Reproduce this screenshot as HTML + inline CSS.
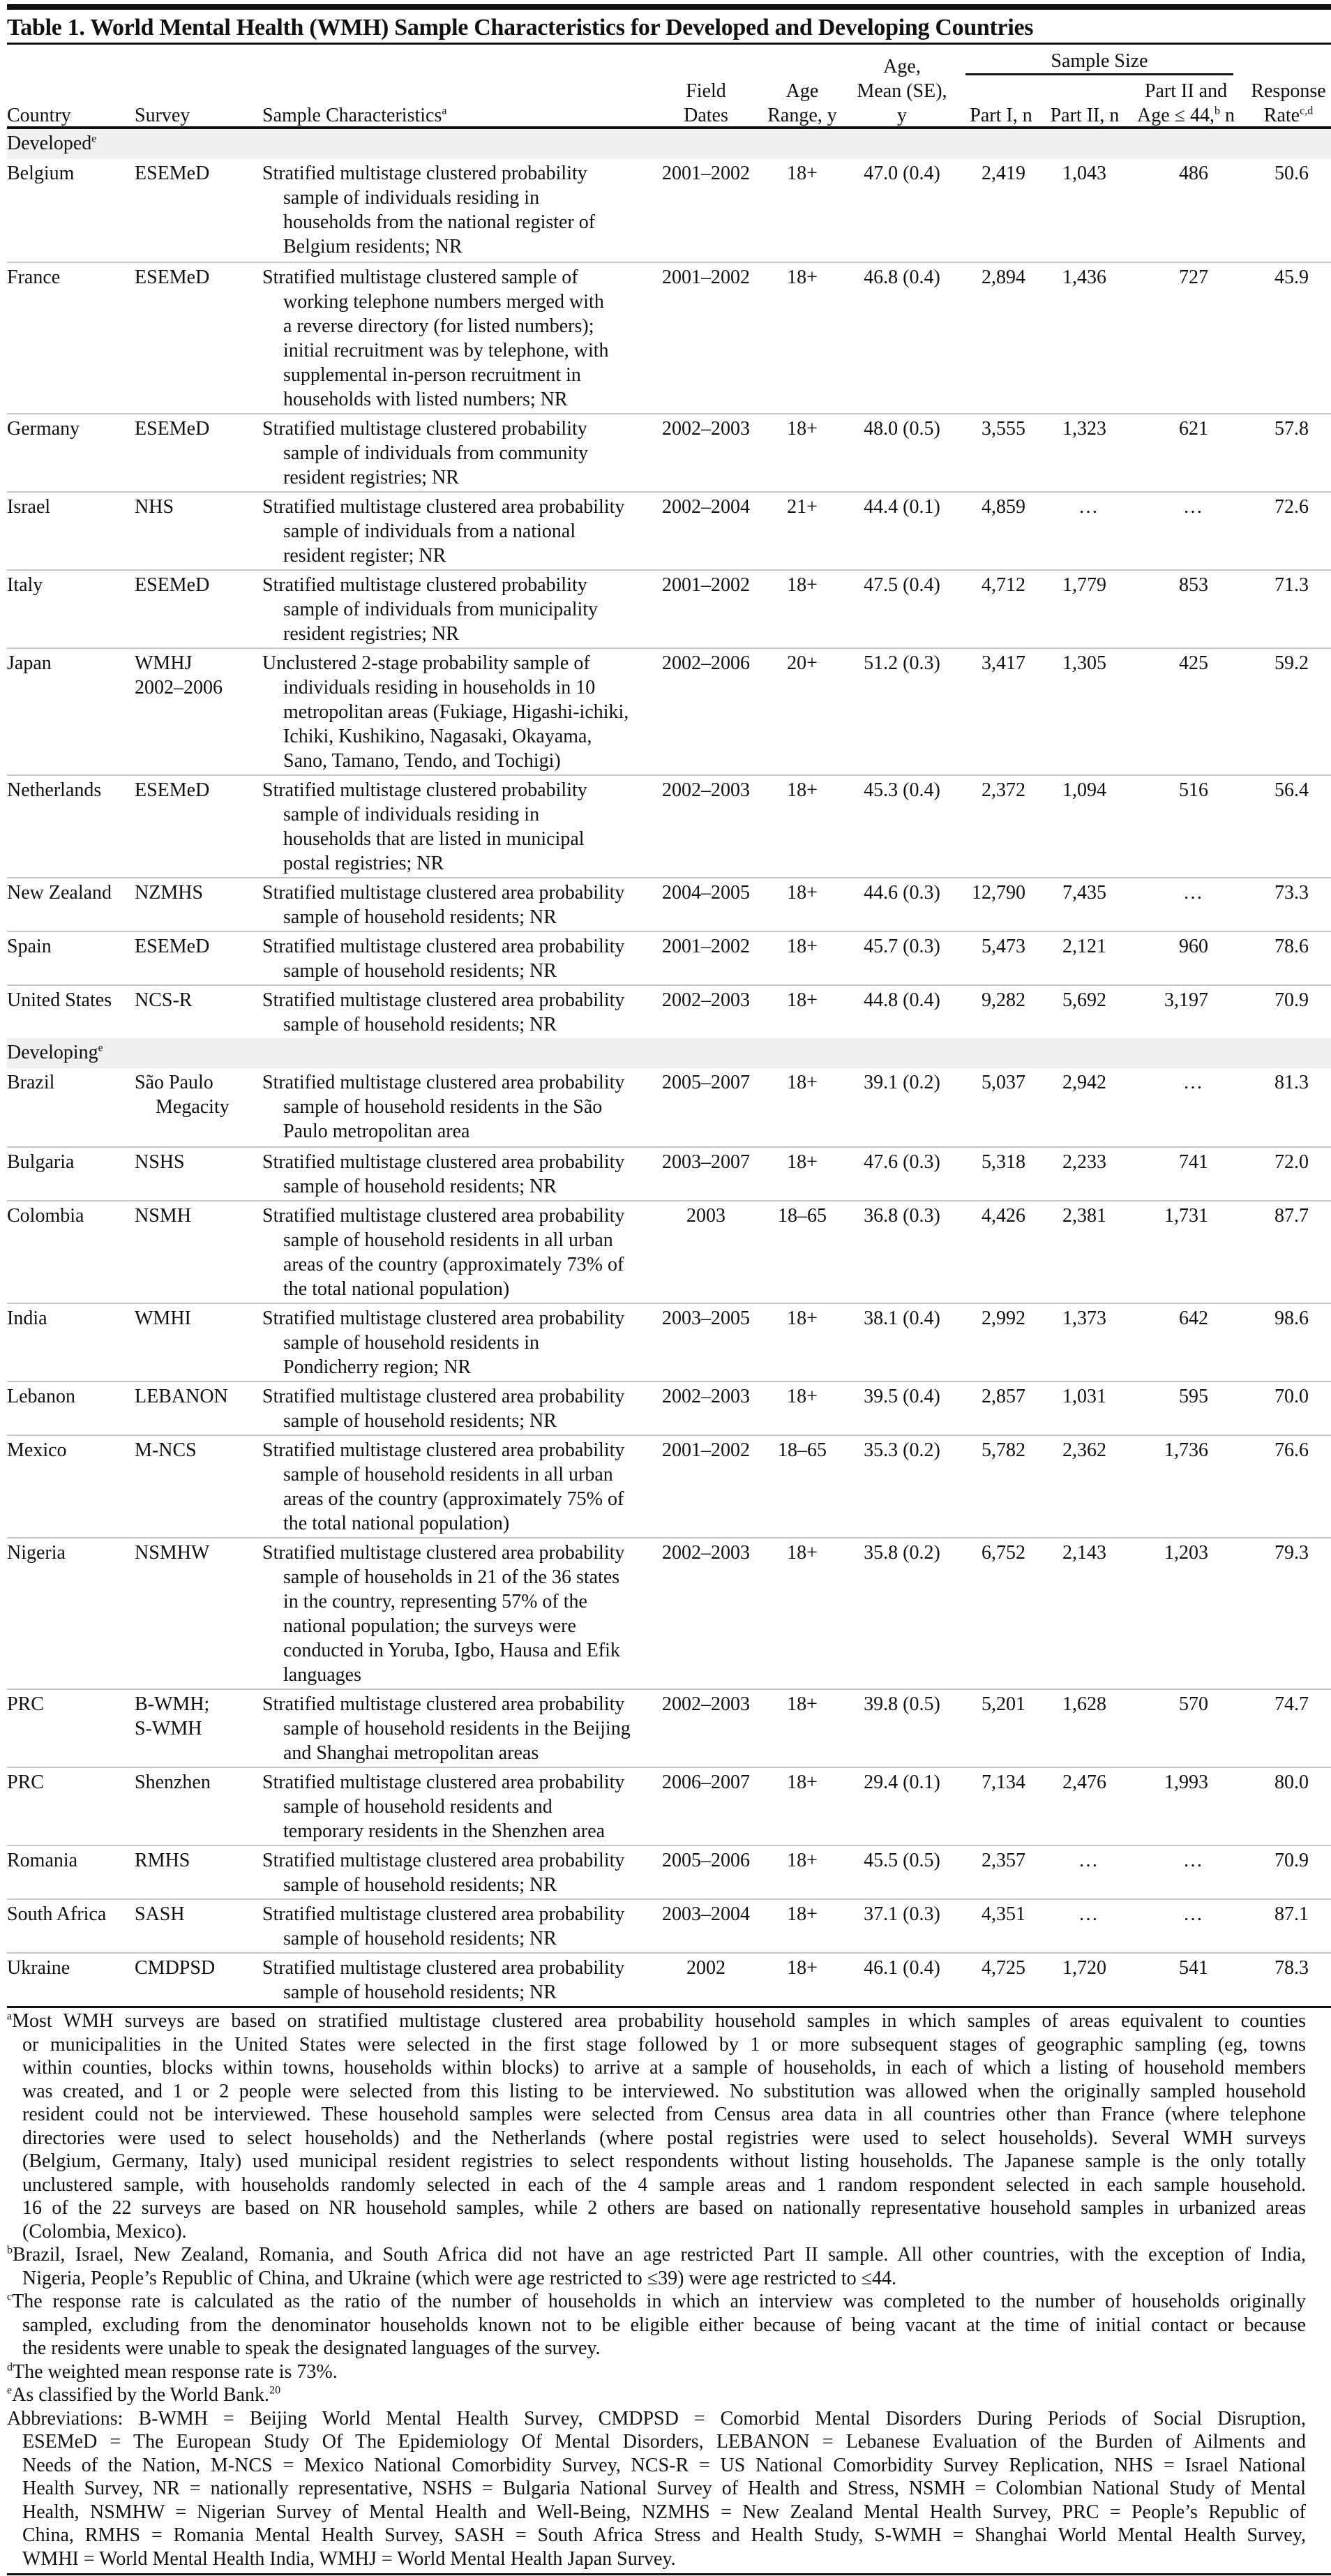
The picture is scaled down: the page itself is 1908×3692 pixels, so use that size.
<!DOCTYPE html>
<html><head><meta charset="utf-8">
<style>
html,body{margin:0;padding:0;background:#fff;}
body{width:1908px;height:3692px;overflow:hidden;position:relative;font-family:"Liberation Serif",serif;color:#111;font-size:28px;}
#topbar{position:absolute;left:10px;top:6px;width:1898px;height:8px;background:#111;}
#title{position:absolute;left:10px;top:21px;font-size:34px;font-weight:bold;white-space:nowrap;letter-spacing:-0.3px;}
.rule{position:absolute;left:10px;width:1898px;background:#111;}
.hd{position:absolute;white-space:nowrap;line-height:35px;text-align:center;}
#tbl{position:absolute;left:0;top:185px;width:1908px;}
.row{position:relative;box-sizing:border-box;border-top:2px solid #c8c8c8;margin-left:10px;width:1898px;}
.row.first{border-top:none;}
.band{background:#f0f0f0;height:43px;margin-left:10px;width:1898px;position:relative;}
.band span{position:absolute;left:0;top:3px;line-height:35px;}
.cell{position:absolute;top:3px;line-height:35px;white-space:nowrap;}
.c{left:0;}
.s{left:183px;}
.d{left:366px;}
.d div+div{padding-left:30px;}
.s div+div.ind{padding-left:30px;}
.fd{left:937px;width:130px;text-align:center;}
.ar{left:1080px;width:120px;text-align:center;}
.am{left:1208px;width:150px;text-align:center;}
.p1{left:1360px;width:100px;text-align:right;}
.p2{left:1476px;width:100px;text-align:right;}
.p3{left:1622px;width:100px;text-align:right;}
.rr{left:1766px;width:100px;text-align:right;}
.el{text-align:center !important;}
.p2.el{left:1500px;width:100px;}
.p3.el{left:1650px;width:100px;}
sup{font-size:16px;line-height:0;}
#foot{position:absolute;left:10px;top:2880px;width:1862px;line-height:33.5px;font-size:28px;}
#foot div{white-space:nowrap;}
#foot .j{text-align:justify;text-align-last:justify;}
#foot .i{padding-left:22px;}
</style></head><body>
<div id="topbar"></div>
<div id="title">Table 1. World Mental Health (WMH) Sample Characteristics for Developed and Developing Countries</div>
<div class="rule" style="top:61px;height:3px;"></div>

<div class="hd" style="left:1384px;width:384px;top:70px;">Sample Size</div>
<div class="rule" style="left:1384px;width:384px;top:105px;height:3px;"></div>
<div class="hd" style="left:1213px;width:160px;top:78px;">Age,</div>
<div class="hd" style="left:947px;width:130px;top:113px;">Field</div>
<div class="hd" style="left:1090px;width:120px;top:113px;">Age</div>
<div class="hd" style="left:1213px;width:160px;top:113px;">Mean (SE),</div>
<div class="hd" style="left:1630px;width:140px;top:113px;">Part II and</div>
<div class="hd" style="left:1786px;width:122px;top:113px;">Response</div>
<div class="hd" style="left:10px;top:148px;">Country</div>
<div class="hd" style="left:193px;top:148px;">Survey</div>
<div class="hd" style="left:376px;top:148px;">Sample Characteristics<sup>a</sup></div>
<div class="hd" style="left:947px;width:130px;top:148px;">Dates</div>
<div class="hd" style="left:1090px;width:120px;top:148px;">Range, y</div>
<div class="hd" style="left:1213px;width:160px;top:148px;">y</div>
<div class="hd" style="left:1380px;width:110px;top:148px;">Part I, n</div>
<div class="hd" style="left:1496px;width:118px;top:148px;">Part II, n</div>
<div class="hd" style="left:1625px;width:150px;top:148px;">Age ≤ 44,<sup>b</sup> n</div>
<div class="hd" style="left:1786px;width:122px;top:148px;">Rate<sup>c,d</sup></div>
<div class="rule" style="top:181px;height:4px;"></div>

<div id="tbl">
<div class="band"><span>Developed<sup>e</sup></span></div>

<div class="row first" style="height:147px"><div class="cell c">Belgium</div><div class="cell s">ESEMeD</div><div class="cell d"><div>Stratified multistage clustered probability</div><div>sample of individuals residing in</div><div>households from the national register of</div><div>Belgium residents; NR</div></div><div class="cell fd">2001–2002</div><div class="cell ar">18+</div><div class="cell am">47.0 (0.4)</div><div class="cell p1">2,419</div><div class="cell p2">1,043</div><div class="cell p3">486</div><div class="cell rr">50.6</div></div>

<div class="row" style="height:217px"><div class="cell c">France</div><div class="cell s">ESEMeD</div><div class="cell d"><div>Stratified multistage clustered sample of</div><div>working telephone numbers merged with</div><div>a reverse directory (for listed numbers);</div><div>initial recruitment was by telephone, with</div><div>supplemental in-person recruitment in</div><div>households with listed numbers; NR</div></div><div class="cell fd">2001–2002</div><div class="cell ar">18+</div><div class="cell am">46.8 (0.4)</div><div class="cell p1">2,894</div><div class="cell p2">1,436</div><div class="cell p3">727</div><div class="cell rr">45.9</div></div>

<div class="row" style="height:112px"><div class="cell c">Germany</div><div class="cell s">ESEMeD</div><div class="cell d"><div>Stratified multistage clustered probability</div><div>sample of individuals from community</div><div>resident registries; NR</div></div><div class="cell fd">2002–2003</div><div class="cell ar">18+</div><div class="cell am">48.0 (0.5)</div><div class="cell p1">3,555</div><div class="cell p2">1,323</div><div class="cell p3">621</div><div class="cell rr">57.8</div></div>

<div class="row" style="height:112px"><div class="cell c">Israel</div><div class="cell s">NHS</div><div class="cell d"><div>Stratified multistage clustered area probability</div><div>sample of individuals from a national</div><div>resident register; NR</div></div><div class="cell fd">2002–2004</div><div class="cell ar">21+</div><div class="cell am">44.4 (0.1)</div><div class="cell p1">4,859</div><div class="cell p2 el">…</div><div class="cell p3 el">…</div><div class="cell rr">72.6</div></div>

<div class="row" style="height:112px"><div class="cell c">Italy</div><div class="cell s">ESEMeD</div><div class="cell d"><div>Stratified multistage clustered probability</div><div>sample of individuals from municipality</div><div>resident registries; NR</div></div><div class="cell fd">2001–2002</div><div class="cell ar">18+</div><div class="cell am">47.5 (0.4)</div><div class="cell p1">4,712</div><div class="cell p2">1,779</div><div class="cell p3">853</div><div class="cell rr">71.3</div></div>

<div class="row" style="height:182px"><div class="cell c">Japan</div><div class="cell s"><div>WMHJ</div><div>2002–2006</div></div><div class="cell d"><div>Unclustered 2-stage probability sample of</div><div>individuals residing in households in 10</div><div>metropolitan areas (Fukiage, Higashi-ichiki,</div><div>Ichiki, Kushikino, Nagasaki, Okayama,</div><div>Sano, Tamano, Tendo, and Tochigi)</div></div><div class="cell fd">2002–2006</div><div class="cell ar">20+</div><div class="cell am">51.2 (0.3)</div><div class="cell p1">3,417</div><div class="cell p2">1,305</div><div class="cell p3">425</div><div class="cell rr">59.2</div></div>

<div class="row" style="height:147px"><div class="cell c">Netherlands</div><div class="cell s">ESEMeD</div><div class="cell d"><div>Stratified multistage clustered probability</div><div>sample of individuals residing in</div><div>households that are listed in municipal</div><div>postal registries; NR</div></div><div class="cell fd">2002–2003</div><div class="cell ar">18+</div><div class="cell am">45.3 (0.4)</div><div class="cell p1">2,372</div><div class="cell p2">1,094</div><div class="cell p3">516</div><div class="cell rr">56.4</div></div>

<div class="row" style="height:77px"><div class="cell c">New Zealand</div><div class="cell s">NZMHS</div><div class="cell d"><div>Stratified multistage clustered area probability</div><div>sample of household residents; NR</div></div><div class="cell fd">2004–2005</div><div class="cell ar">18+</div><div class="cell am">44.6 (0.3)</div><div class="cell p1">12,790</div><div class="cell p2">7,435</div><div class="cell p3 el">…</div><div class="cell rr">73.3</div></div>

<div class="row" style="height:77px"><div class="cell c">Spain</div><div class="cell s">ESEMeD</div><div class="cell d"><div>Stratified multistage clustered area probability</div><div>sample of household residents; NR</div></div><div class="cell fd">2001–2002</div><div class="cell ar">18+</div><div class="cell am">45.7 (0.3)</div><div class="cell p1">5,473</div><div class="cell p2">2,121</div><div class="cell p3">960</div><div class="cell rr">78.6</div></div>

<div class="row" style="height:77px"><div class="cell c">United States</div><div class="cell s">NCS-R</div><div class="cell d"><div>Stratified multistage clustered area probability</div><div>sample of household residents; NR</div></div><div class="cell fd">2002–2003</div><div class="cell ar">18+</div><div class="cell am">44.8 (0.4)</div><div class="cell p1">9,282</div><div class="cell p2">5,692</div><div class="cell p3">3,197</div><div class="cell rr">70.9</div></div>

<div class="band"><span>Developing<sup>e</sup></span></div>

<div class="row first" style="height:112px"><div class="cell c">Brazil</div><div class="cell s"><div>São Paulo</div><div class="ind">Megacity</div></div><div class="cell d"><div>Stratified multistage clustered area probability</div><div>sample of household residents in the São</div><div>Paulo metropolitan area</div></div><div class="cell fd">2005–2007</div><div class="cell ar">18+</div><div class="cell am">39.1 (0.2)</div><div class="cell p1">5,037</div><div class="cell p2">2,942</div><div class="cell p3 el">…</div><div class="cell rr">81.3</div></div>

<div class="row" style="height:77px"><div class="cell c">Bulgaria</div><div class="cell s">NSHS</div><div class="cell d"><div>Stratified multistage clustered area probability</div><div>sample of household residents; NR</div></div><div class="cell fd">2003–2007</div><div class="cell ar">18+</div><div class="cell am">47.6 (0.3)</div><div class="cell p1">5,318</div><div class="cell p2">2,233</div><div class="cell p3">741</div><div class="cell rr">72.0</div></div>

<div class="row" style="height:147px"><div class="cell c">Colombia</div><div class="cell s">NSMH</div><div class="cell d"><div>Stratified multistage clustered area probability</div><div>sample of household residents in all urban</div><div>areas of the country (approximately 73% of</div><div>the total national population)</div></div><div class="cell fd">2003</div><div class="cell ar">18–65</div><div class="cell am">36.8 (0.3)</div><div class="cell p1">4,426</div><div class="cell p2">2,381</div><div class="cell p3">1,731</div><div class="cell rr">87.7</div></div>

<div class="row" style="height:112px"><div class="cell c">India</div><div class="cell s">WMHI</div><div class="cell d"><div>Stratified multistage clustered area probability</div><div>sample of household residents in</div><div>Pondicherry region; NR</div></div><div class="cell fd">2003–2005</div><div class="cell ar">18+</div><div class="cell am">38.1 (0.4)</div><div class="cell p1">2,992</div><div class="cell p2">1,373</div><div class="cell p3">642</div><div class="cell rr">98.6</div></div>

<div class="row" style="height:77px"><div class="cell c">Lebanon</div><div class="cell s">LEBANON</div><div class="cell d"><div>Stratified multistage clustered area probability</div><div>sample of household residents; NR</div></div><div class="cell fd">2002–2003</div><div class="cell ar">18+</div><div class="cell am">39.5 (0.4)</div><div class="cell p1">2,857</div><div class="cell p2">1,031</div><div class="cell p3">595</div><div class="cell rr">70.0</div></div>

<div class="row" style="height:147px"><div class="cell c">Mexico</div><div class="cell s">M-NCS</div><div class="cell d"><div>Stratified multistage clustered area probability</div><div>sample of household residents in all urban</div><div>areas of the country (approximately 75% of</div><div>the total national population)</div></div><div class="cell fd">2001–2002</div><div class="cell ar">18–65</div><div class="cell am">35.3 (0.2)</div><div class="cell p1">5,782</div><div class="cell p2">2,362</div><div class="cell p3">1,736</div><div class="cell rr">76.6</div></div>

<div class="row" style="height:217px"><div class="cell c">Nigeria</div><div class="cell s">NSMHW</div><div class="cell d"><div>Stratified multistage clustered area probability</div><div>sample of households in 21 of the 36 states</div><div>in the country, representing 57% of the</div><div>national population; the surveys were</div><div>conducted in Yoruba, Igbo, Hausa and Efik</div><div>languages</div></div><div class="cell fd">2002–2003</div><div class="cell ar">18+</div><div class="cell am">35.8 (0.2)</div><div class="cell p1">6,752</div><div class="cell p2">2,143</div><div class="cell p3">1,203</div><div class="cell rr">79.3</div></div>

<div class="row" style="height:112px"><div class="cell c">PRC</div><div class="cell s"><div>B-WMH;</div><div>S-WMH</div></div><div class="cell d"><div>Stratified multistage clustered area probability</div><div>sample of household residents in the Beijing</div><div>and Shanghai metropolitan areas</div></div><div class="cell fd">2002–2003</div><div class="cell ar">18+</div><div class="cell am">39.8 (0.5)</div><div class="cell p1">5,201</div><div class="cell p2">1,628</div><div class="cell p3">570</div><div class="cell rr">74.7</div></div>

<div class="row" style="height:112px"><div class="cell c">PRC</div><div class="cell s">Shenzhen</div><div class="cell d"><div>Stratified multistage clustered area probability</div><div>sample of household residents and</div><div>temporary residents in the Shenzhen area</div></div><div class="cell fd">2006–2007</div><div class="cell ar">18+</div><div class="cell am">29.4 (0.1)</div><div class="cell p1">7,134</div><div class="cell p2">2,476</div><div class="cell p3">1,993</div><div class="cell rr">80.0</div></div>

<div class="row" style="height:77px"><div class="cell c">Romania</div><div class="cell s">RMHS</div><div class="cell d"><div>Stratified multistage clustered area probability</div><div>sample of household residents; NR</div></div><div class="cell fd">2005–2006</div><div class="cell ar">18+</div><div class="cell am">45.5 (0.5)</div><div class="cell p1">2,357</div><div class="cell p2 el">…</div><div class="cell p3 el">…</div><div class="cell rr">70.9</div></div>

<div class="row" style="height:77px"><div class="cell c">South Africa</div><div class="cell s">SASH</div><div class="cell d"><div>Stratified multistage clustered area probability</div><div>sample of household residents; NR</div></div><div class="cell fd">2003–2004</div><div class="cell ar">18+</div><div class="cell am">37.1 (0.3)</div><div class="cell p1">4,351</div><div class="cell p2 el">…</div><div class="cell p3 el">…</div><div class="cell rr">87.1</div></div>

<div class="row" style="height:77px"><div class="cell c">Ukraine</div><div class="cell s">CMDPSD</div><div class="cell d"><div>Stratified multistage clustered area probability</div><div>sample of household residents; NR</div></div><div class="cell fd">2002</div><div class="cell ar">18+</div><div class="cell am">46.1 (0.4)</div><div class="cell p1">4,725</div><div class="cell p2">1,720</div><div class="cell p3">541</div><div class="cell rr">78.3</div></div>
</div>

<div class="rule" style="top:2875px;height:3px;"></div>
<div id="foot">
<div class="j"><sup>a</sup>Most WMH surveys are based on stratified multistage clustered area probability household samples in which samples of areas equivalent to counties</div>
<div class="j i">or municipalities in the United States were selected in the first stage followed by 1 or more subsequent stages of geographic sampling (eg, towns</div>
<div class="j i">within counties, blocks within towns, households within blocks) to arrive at a sample of households, in each of which a listing of household members</div>
<div class="j i">was created, and 1 or 2 people were selected from this listing to be interviewed. No substitution was allowed when the originally sampled household</div>
<div class="j i">resident could not be interviewed. These household samples were selected from Census area data in all countries other than France (where telephone</div>
<div class="j i">directories were used to select households) and the Netherlands (where postal registries were used to select households). Several WMH surveys</div>
<div class="j i">(Belgium, Germany, Italy) used municipal resident registries to select respondents without listing households. The Japanese sample is the only totally</div>
<div class="j i">unclustered sample, with households randomly selected in each of the 4 sample areas and 1 random respondent selected in each sample household.</div>
<div class="j i">16 of the 22 surveys are based on NR household samples, while 2 others are based on nationally representative household samples in urbanized areas</div>
<div class="i">(Colombia, Mexico).</div>
<div class="j"><sup>b</sup>Brazil, Israel, New Zealand, Romania, and South Africa did not have an age restricted Part II sample. All other countries, with the exception of India,</div>
<div class="i">Nigeria, People’s Republic of China, and Ukraine (which were age restricted to ≤39) were age restricted to ≤44.</div>
<div class="j"><sup>c</sup>The response rate is calculated as the ratio of the number of households in which an interview was completed to the number of households originally</div>
<div class="j i">sampled, excluding from the denominator households known not to be eligible either because of being vacant at the time of initial contact or because</div>
<div class="i">the residents were unable to speak the designated languages of the survey.</div>
<div><sup>d</sup>The weighted mean response rate is 73%.</div>
<div><sup>e</sup>As classified by the World Bank.<sup>20</sup></div>
<div class="j">Abbreviations: B-WMH = Beijing World Mental Health Survey, CMDPSD = Comorbid Mental Disorders During Periods of Social Disruption,</div>
<div class="j i">ESEMeD = The European Study Of The Epidemiology Of Mental Disorders, LEBANON = Lebanese Evaluation of the Burden of Ailments and</div>
<div class="j i">Needs of the Nation, M-NCS = Mexico National Comorbidity Survey, NCS-R = US National Comorbidity Survey Replication, NHS = Israel National</div>
<div class="j i">Health Survey, NR = nationally representative, NSHS = Bulgaria National Survey of Health and Stress, NSMH = Colombian National Study of Mental</div>
<div class="j i">Health, NSMHW = Nigerian Survey of Mental Health and Well-Being, NZMHS = New Zealand Mental Health Survey, PRC = People’s Republic of</div>
<div class="j i">China, RMHS = Romania Mental Health Survey, SASH = South Africa Stress and Health Study, S-WMH = Shanghai World Mental Health Survey,</div>
<div class="i">WMHI = World Mental Health India, WMHJ = World Mental Health Japan Survey.</div>
</div>
<div class="rule" style="top:3688px;height:3px;"></div>
</body></html>
